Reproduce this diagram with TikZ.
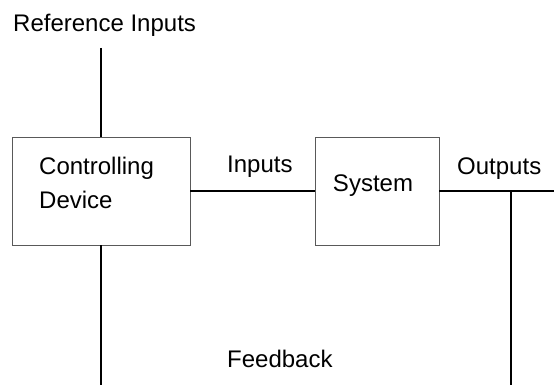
\documentclass[tikz,border=0pt]{standalone}
\usepackage{fontspec}
\setmainfont{Liberation Sans}
\tikzset{
  block/.style={
    draw = black!65,
    line width = 0.8pt,
    inner sep = 0pt
  },
  wire/.style={
    draw,
    line width = 1.1pt
  },
  thickwire/.style={
    draw,
    line width = 1.5pt
  },
  txt/.style={
    inner sep = 0pt,
    anchor = base west,
    font = \fontsize{24}{34}\selectfont
  }
}
\begin{document}
\begin{tikzpicture}[x=1pt,y=1pt]
        \useasboundingbox (0,0) rectangle (554,385);
        % the two blocks
        \node[block,minimum width=178pt,minimum height=108pt] (ctrl) at (101,194) {};
        \node[block,minimum width=124pt,minimum height=108pt] (sys) at (377,194) {};
        % loose ends of the lines
        \coordinate (refin) at (101,337);
        \coordinate (fbleft) at (101,0);
        \coordinate (outend) at (554,194);
        \coordinate (branch) at (511,194);
        \coordinate (fbright) at (511,0);
        \draw[wire] (refin) -- (ctrl.north);
        \draw[wire] (ctrl.east) -- (sys.west);
        \draw[wire] (sys.east) -- (outend);
        \draw[thickwire] (ctrl.south) -- (fbleft);
        \draw[thickwire] (branch) -- (fbright);
        % labels
        \node[txt] (reflabel) at (13,353) {Reference Inputs};
        \node[txt] (ctrltop) at (39,210) {Controlling};
        \node[txt] (ctrlbot) at (39,176) {Device};
        \node[txt] (inlabel) at (227,212) {Inputs};
        \node[txt,anchor=base] (syslabel) at (373,193) {System};
        \node[txt] (outlabel) at (457,210) {Outputs};
        \node[txt] (fblabel) at (227,17) {Feedback};
    \end{tikzpicture}
\end{document}
